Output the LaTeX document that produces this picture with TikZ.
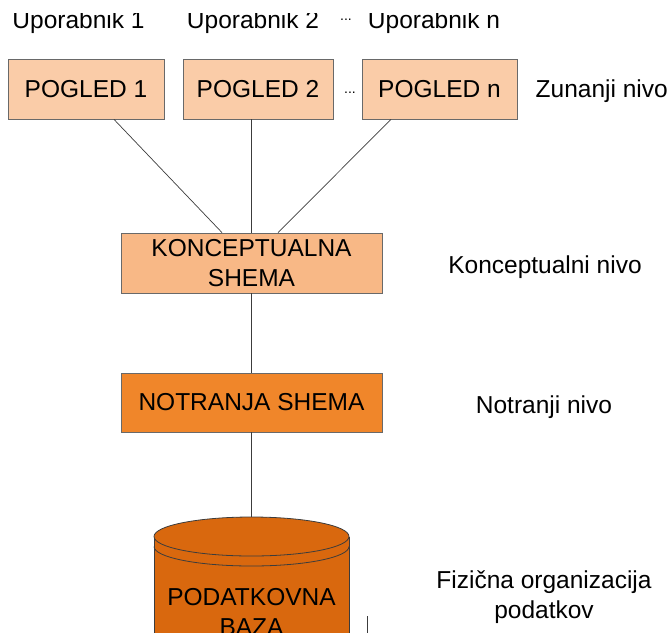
\documentclass[tikz,border=0pt]{standalone}
\usepackage{fontspec}
\setmainfont{Liberation Sans}
\definecolor{pogfill}{RGB}{250,204,168}
\definecolor{koncfill}{RGB}{248,184,134}
\definecolor{notrfill}{RGB}{240,134,42}
\definecolor{bazafill}{RGB}{217,104,14}
\definecolor{edgegray}{RGB}{105,105,105}
\definecolor{linegray}{RGB}{60,60,60}

\begin{document}
\begin{tikzpicture}[x=1pt,y=-1pt,line width=0.8pt,
  font=\fontsize{24.5}{30}\selectfont,
  box/.style={draw=edgegray,rectangle,inner sep=0pt,minimum height=60pt,align=center},
  conn/.style={draw=linegray,line width=0.7pt}]
  \useasboundingbox (0,0) rectangle (669,632);
  \clip (0,0) rectangle (669,632);
  % users (top row is cut in the source)
  \begin{scope}
    \clip (0,13) rectangle (669,60);
    \node[anchor=base] (up1) at (78.5,28) {Uporabnik 1};
    \node[anchor=base] (up2) at (253,28) {Uporabnik 2};
    \node[anchor=base,font=\fontsize{14}{14}\selectfont] (updots) at (346,20) {...};
    \node[anchor=base] (upn) at (434,28) {Uporabnik n};
  \end{scope}
  % views
  \node[box,fill=pogfill,minimum width=156pt] (pogA) at (86,89) {POGLED 1};
  \node[box,fill=pogfill,minimum width=150pt] (pogB) at (258,89) {POGLED 2};
  \node[box,fill=pogfill,minimum width=155pt] (pogN) at (439.5,89) {POGLED n};
  \node[anchor=base,font=\fontsize{14}{14}\selectfont] (pogdots) at (350,93) {...};
  % schemas
  \node[box,fill=koncfill,minimum width=261pt] (konc) at (251.5,263) {KONCEPTUALNA\\SHEMA};
  \node[box,fill=notrfill,minimum width=261pt,minimum height=59pt] (notr) at (251.5,402.5) {NOTRANJA SHEMA};
  % database
  \coordinate (bazatop) at (251.5,517);
  \filldraw[fill=bazafill,draw=linegray] (349,536.5) -- (349,660) -- (154,660) -- (154,536.5);
  \filldraw[fill=bazafill,draw=linegray] (251.5,536.5) ellipse [x radius=97.5,y radius=19.5];
  \draw[linegray] (154,546.5) arc[start angle=180,end angle=0,x radius=97.5,y radius=19.5];
  \node[align=center] (baza) at (251.5,612) {PODATKOVNA\\BAZA};
  \coordinate (markA) at (367,616);
  \coordinate (markB) at (367,640);
  \draw[linegray] (markA) -- (markB);
  % levels
  \node[anchor=base west] (zun) at (532,97) {Zunanji nivo};
  \node[anchor=base] (konniv) at (545,273) {Konceptualni nivo};
  \node[anchor=base] (notniv) at (544,413) {Notranji nivo};
  \node[align=center] (fizniv) at (544,597) {Fizična organizacija\\podatkov};
  % connectors
  \draw[conn] ([xshift=28]pogA.south) -- ([xshift=-29.5]konc.north);
  \draw[conn] ([xshift=-6.5]pogB.south) -- (konc.north);
  \draw[conn] ([xshift=-48.5]pogN.south) -- ([xshift=26.5]konc.north);
  \draw[conn] (konc) -- (notr);
  \draw[conn] (notr) -- (bazatop);
\end{tikzpicture}
\end{document}
